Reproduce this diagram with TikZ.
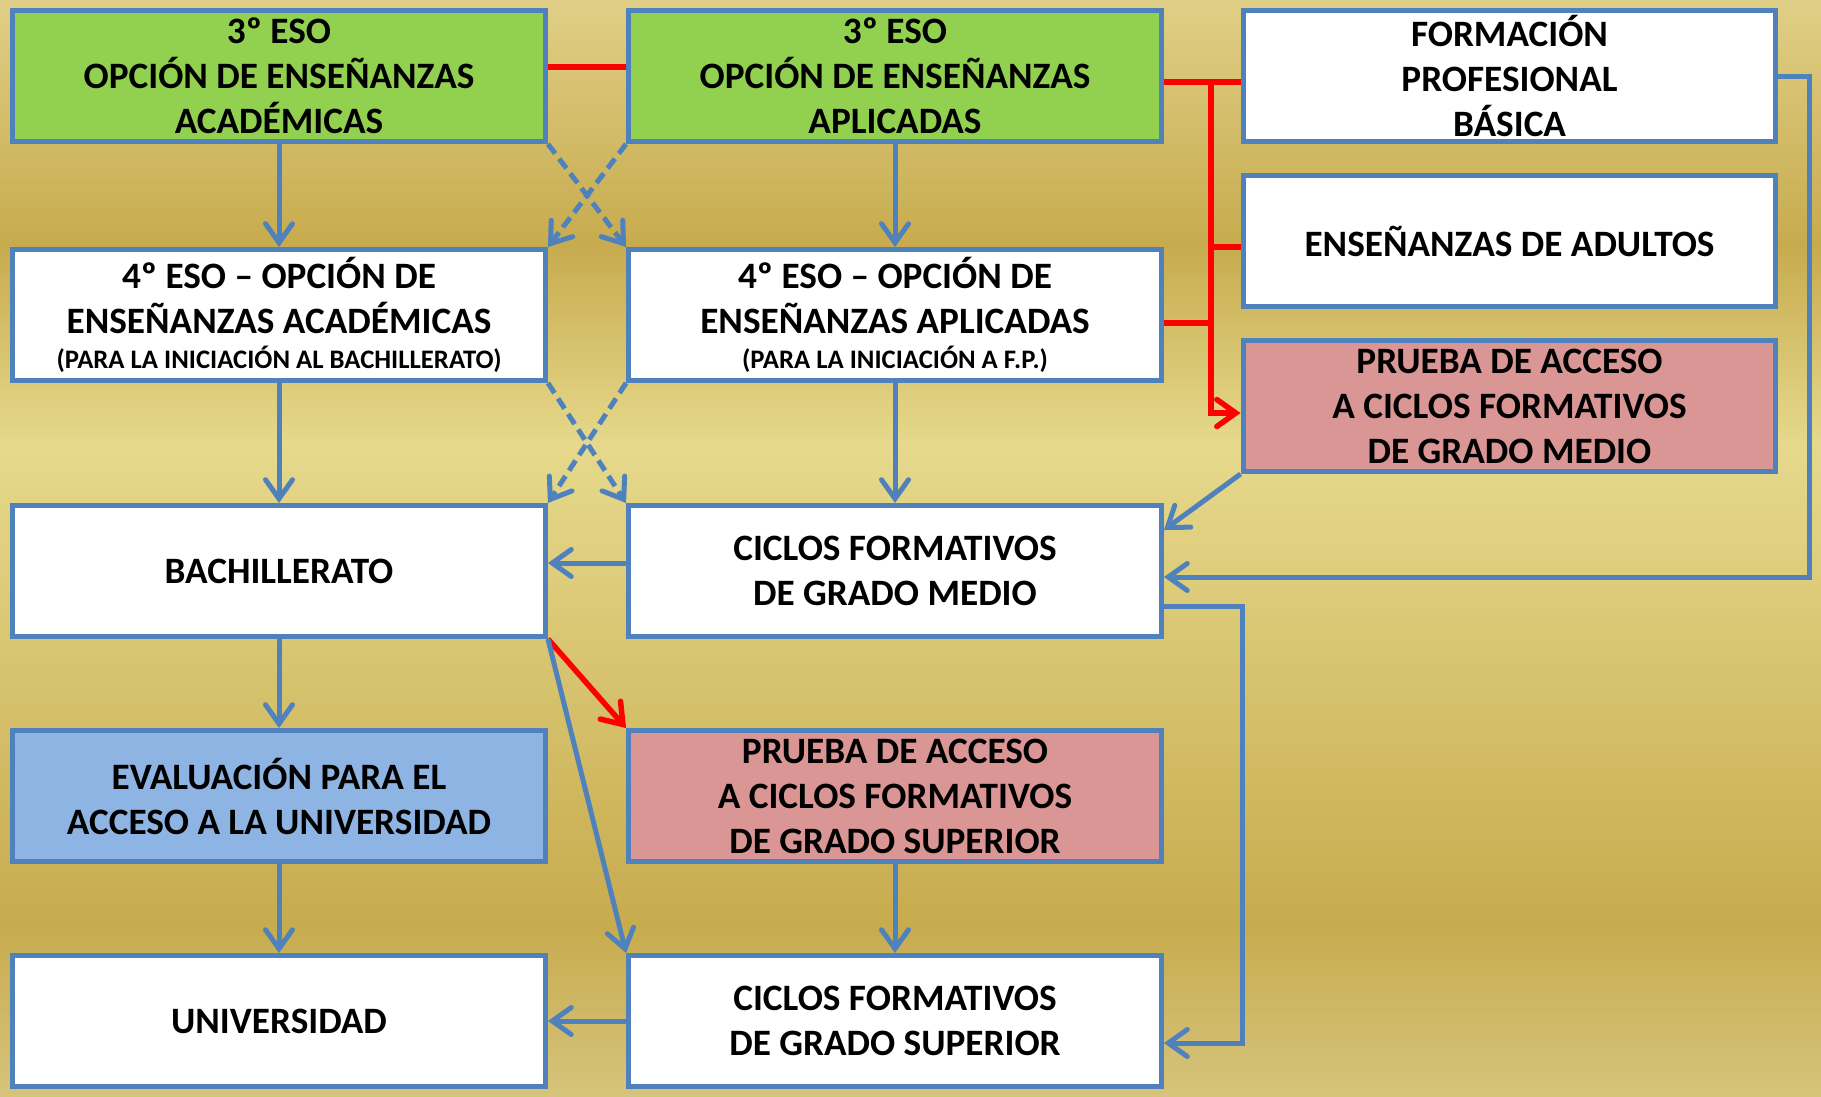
\documentclass[tikz,border=0pt]{standalone}
\usepackage{fontspec}
\setmainfont{Carlito}
\usepackage{xcolor}
\usetikzlibrary{calc,arrows.meta}
\definecolor{bgtop}{HTML}{E0CF86}
\definecolor{bgdark}{HTML}{C7AB4E}
\definecolor{bglight}{HTML}{E6D98C}
\definecolor{bgbot}{HTML}{D6C47B}
\definecolor{edge}{HTML}{4F81BD}
\definecolor{greenfill}{HTML}{92D050}
\definecolor{pinkfill}{HTML}{D99694}
\definecolor{bluefill}{HTML}{8EB4E3}
\definecolor{linkred}{HTML}{FF0000}
\tikzset{
  box/.style={draw=edge, line width=0.1cm, fill=white, minimum width=10.66cm, minimum height=2.62cm,
    inner sep=0pt, align=center, font=\bfseries\fontsize{21.2}{25.6}\selectfont},
  boxg/.style={box, fill=greenfill},
  boxp/.style={box, fill=pinkfill},
  boxb/.style={box, fill=bluefill},
  tip/.style={-{Straight Barb[length=0.38cm,width=0.54cm,line cap=round]}},
  flow/.style={draw=edge, line width=0.1cm, tip},
  dflow/.style={flow, dash pattern=on 0.24cm off 0.13cm},
  redline/.style={draw=linkred, line width=0.11cm},
  redflow/.style={redline, tip},
}
\newcommand{\smalltxt}{\bfseries\fontsize{15.2}{18}\selectfont}

\begin{document}
\begin{tikzpicture}[x=0.02cm, y=-0.02cm]
  \useasboundingbox (0,0) rectangle (1821,1096);
  \shade[top color=bgtop, bottom color=bgdark] (0,0) rectangle (1821,245);
  \shade[top color=bgdark, bottom color=bglight] (0,245) rectangle (1821,445);
  \shade[top color=bglight, bottom color=bgdark] (0,445) rectangle (1821,925);
  \shade[top color=bgdark, bottom color=bgbot] (0,925) rectangle (1821,1096);

  \node[boxg] (e3a) at (279,76) {3º ESO\\OPCIÓN DE ENSEÑANZAS\\ACADÉMICAS};
  \node[boxg] (e3b) at (895,76) {3º ESO\\OPCIÓN DE ENSEÑANZAS\\APLICADAS};
  \node[box] (fpb) at (1509.5,76) {FORMACIÓN\\PROFESIONAL\\BÁSICA};
  \node[box] (adult) at (1509.5,241) {ENSEÑANZAS DE ADULTOS};
  \node[boxp] (pgm) at (1509.5,406) {PRUEBA DE ACCESO\\A CICLOS FORMATIVOS\\DE GRADO MEDIO};
  \node[box] (e4a) at (279,315) {4º ESO – OPCIÓN DE\\ENSEÑANZAS ACADÉMICAS\\[-6pt]{\smalltxt (PARA LA INICIACIÓN AL BACHILLERATO)}};
  \node[box] (e4b) at (895,315) {4º ESO – OPCIÓN DE\\ENSEÑANZAS APLICADAS\\[-6pt]{\smalltxt (PARA LA INICIACIÓN A F.P.)}};
  \node[box] (bach) at (279,571) {BACHILLERATO};
  \node[box] (cfgm) at (895,571) {CICLOS FORMATIVOS\\DE GRADO MEDIO};
  \node[boxb] (eval) at (279,796) {EVALUACIÓN PARA EL\\ACCESO A LA UNIVERSIDAD};
  \node[boxp] (pgs) at (895,796) {PRUEBA DE ACCESO\\A CICLOS FORMATIVOS\\DE GRADO SUPERIOR};
  \node[box] (univ) at (279,1021) {UNIVERSIDAD};
  \node[box] (cfgs) at (895,1021) {CICLOS FORMATIVOS\\DE GRADO SUPERIOR};

  \coordinate (rbus) at (1211,0);
  \coordinate (rside) at (1809,0);
  \coordinate (mside) at (1242,0);
  \coordinate (r0) at ([yshift=0.18cm]e3a.east);
  \coordinate (r1) at ([yshift=-0.12cm]e3b.east);
  \coordinate (r2) at ([yshift=-0.12cm]adult.west);
  \coordinate (r3) at ([yshift=-0.16cm]e4b.east);
  \coordinate (r4) at ([yshift=-0.14cm]pgm.west);
  \coordinate (m1) at ([yshift=-0.12cm]cfgm.east);
  \coordinate (m2) at ([yshift=-0.7cm]cfgm.east);
  \coordinate (m3) at ([yshift=-0.44cm]cfgs.east);

  \draw[redline] (r0) -- (r0 -| e3b.west);
  \draw[redline] (r1) -- (r1 -| fpb.west);
  \draw[redflow] (rbus |- r1) |- (r4);
  \draw[redline] (rbus |- r2) -- (r2);
  \draw[redline] (r3) -- (rbus |- r3);

  \draw[flow] (e3a.south) -- (e4a.north);
  \draw[flow] (e3b.south) -- (e4b.north);
  \draw[dflow] (e3a.south east) -- (e4b.north west);
  \draw[dflow] (e3b.south west) -- (e4a.north east);
  \draw[flow] (e4a.south) -- (bach.north);
  \draw[flow] (e4b.south) -- (cfgm.north);
  \draw[dflow] (e4a.south east) -- (cfgm.north west);
  \draw[dflow] (e4b.south west) -- (bach.north east);

  \draw[flow] ([yshift=0.16cm]cfgm.west) -- ([yshift=0.16cm]bach.east);
  \draw[flow] (pgm.south west) -- ($(cfgm.north east)+(0,27)$);
  \draw[flow] (fpb.east) -| (rside |- m1) -- (m1);
  \draw[flow] (m2) -| (mside |- m3) -- (m3);

  \draw[flow] (bach.south) -- (eval.north);
  \draw[flow] (eval.south) -- (univ.north);
  \draw[redflow] (bach.south east) -- (pgs.north west);
  \draw[flow] (bach.south east) -- (cfgs.north west);
  \draw[flow] (pgs.south) -- (cfgs.north);
  \draw[flow] (cfgs.west) -- (univ.east);
\end{tikzpicture}
\end{document}
